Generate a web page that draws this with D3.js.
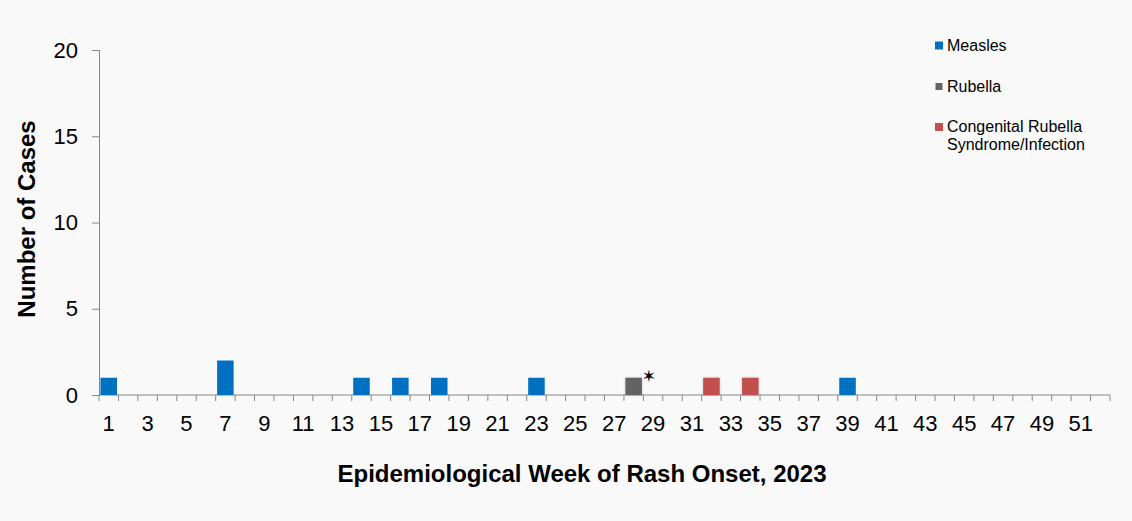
<!DOCTYPE html>
<html>
<head>
<meta charset="utf-8">
<script src="https://cdn.jsdelivr.net/npm/d3@7"></script>
<style>
  body { margin: 0; background: #f9f9f9; }
  svg { display: block; font-family: Arial, "Liberation Sans", sans-serif; }
</style>
</head>
<body>
<div id="chart"></div>
<script>
// weeks 1..52 on the category axis
var weeks = d3.range(1, 53);
var tickWeeks = weeks.filter(function (w) { return w % 2 === 1; });
var yTicks = [0, 5, 10, 15, 20];

// cases by week of rash onset
var measlesWeeks = [1, 7, 14, 16, 18, 23, 39];
var measlesCases = [1, 2, 1, 1, 1, 1, 1];
var rubellaWeeks = [28];
var rubellaCases = [1];
var crsWeeks = [32, 34];
var crsCases = [1, 1];

// asterisk note next to the rubella case
var noteWeek = 29;
var noteValue = 1;

var seriesNames = ["Measles", "Rubella", "Congenital Rubella Syndrome/Infection"];
var seriesColors = ["#0070c0", "#646464", "#c0504d"];

var svgWidth = 1132;
var svgHeight = 521;

var margin = { top: 50, right: 22, bottom: 126, left: 99 },
    width = svgWidth - margin.left - margin.right,
    height = svgHeight - margin.top - margin.bottom;

var svg = d3.select("#chart")
    .append("svg")
    .attr("width", svgWidth)
    .attr("height", svgHeight);

svg.append("rect")
    .attr("width", svgWidth)
    .attr("height", svgHeight)
    .attr("fill", "#f9f9f9");

// soft shadow used by the grey and red bars
var defs = svg.append("defs");
defs.append("filter")
    .attr("id", "shade")
    .attr("x", "-30%").attr("y", "-30%")
    .attr("width", "160%").attr("height", "160%")
    .append("feDropShadow")
    .attr("dx", 0).attr("dy", 0)
    .attr("stdDeviation", 1.2)
    .attr("flood-color", "#000")
    .attr("flood-opacity", 0.25);

var chartGroup = svg.append("g")
    .attr("transform", `translate(${margin.left}, ${margin.top})`);

var x = d3.scaleBand()
    .domain(weeks)
    .range([0, width])
    .paddingInner(0.15)
    .paddingOuter(0.075);

var xEdge = d3.scaleLinear()
    .domain([0.5, 52.5])
    .range([0, width]);

var y = d3.scaleLinear()
    .domain([0, 20])
    .range([height, 0]);

// x axis: ticks sit on the week boundaries, labels on odd weeks
var xAxisG = chartGroup.append("g")
    .attr("transform", "translate(0," + height + ")");

xAxisG.append("line")
    .attr("x1", 0).attr("x2", width)
    .attr("stroke", "#868686");

xAxisG.selectAll(".tk")
    .data(d3.range(0.5, 53.5, 1))
    .enter()
    .append("line")
    .attr("x1", function (d) { return xEdge(d); })
    .attr("x2", function (d) { return xEdge(d); })
    .attr("y1", 0).attr("y2", 6)
    .attr("stroke", "#868686");

xAxisG.selectAll(".lbl")
    .data(tickWeeks)
    .enter()
    .append("text")
    .attr("x", function (d) { return xEdge(d); })
    .attr("y", 36)
    .attr("text-anchor", "middle")
    .attr("font-size", "22px")
    .attr("fill", "#000")
    .text(function (d) { return d; });

// y axis
var yAxis = chartGroup.append("g")
    .call(d3.axisLeft(y).tickValues(yTicks).tickSize(7).tickPadding(14));
yAxis.select(".domain").attr("stroke", "#868686");
yAxis.selectAll(".tick line").attr("stroke", "#868686");
yAxis.selectAll(".tick text")
    .attr("font-size", "22px")
    .attr("font-family", "Arial, 'Liberation Sans', sans-serif")
    .attr("fill", "#000");
yAxis.select(".tick:first-of-type line").remove();

// bars
function drawBars(wk, vals, color, shadow) {
    var rows = wk.map(function (w, i) { return { week: w, value: vals[i] }; });
    chartGroup.append("g")
        .selectAll("rect")
        .data(rows)
        .enter()
        .append("rect")
        .attr("x", function (d) { return x(d.week); })
        .attr("y", function (d) { return y(d.value); })
        .attr("width", x.bandwidth())
        .attr("height", function (d) { return height - y(d.value); })
        .attr("fill", color)
        .attr("filter", shadow ? "url(#shade)" : null);
}
drawBars(measlesWeeks, measlesCases, seriesColors[0], false);
drawBars(rubellaWeeks, rubellaCases, seriesColors[1], true);
drawBars(crsWeeks, crsCases, seriesColors[2], true);

chartGroup.append("text")
    .attr("x", xEdge(noteWeek - 0.5) + 5.5)
    .attr("y", y(noteValue) + 4)
    .attr("text-anchor", "middle")
    .attr("font-family", "'DejaVu Sans', sans-serif")
    .attr("font-size", "17px")
    .attr("fill", "#000")
    .text("\u2736");

// axis titles
svg.append("text")
    .attr("x", 582)
    .attr("y", 482)
    .attr("text-anchor", "middle")
    .attr("font-size", "24px")
    .attr("font-weight", "bold")
    .text("Epidemiological Week of Rash Onset, 2023");

svg.append("text")
    .attr("transform", "translate(35, 219) rotate(-90)")
    .attr("text-anchor", "middle")
    .attr("font-size", "24px")
    .attr("font-weight", "bold")
    .text("Number of Cases");

// legend
var legendRows = [
    { name: seriesNames[0], color: seriesColors[0], y: 45.5, size: 8, lines: ["Measles"] },
    { name: seriesNames[1], color: seriesColors[1], y: 86.5, size: 7, lines: ["Rubella"] },
    { name: seriesNames[2], color: seriesColors[2], y: 127, size: 8, lines: ["Congenital Rubella", "Syndrome/Infection"] }
];

var legend = svg.append("g");
legendRows.forEach(function (r) {
    legend.append("rect")
        .attr("x", 939 - r.size / 2)
        .attr("y", r.y - r.size / 2)
        .attr("width", r.size)
        .attr("height", r.size)
        .attr("fill", r.color);
    r.lines.forEach(function (t, i) {
        legend.append("text")
            .attr("x", 947)
            .attr("y", r.y + 5 + i * 17.5)
            .attr("font-size", "16px")
            .attr("fill", "#000")
            .text(t);
    });
});
</script>
</body>
</html>
